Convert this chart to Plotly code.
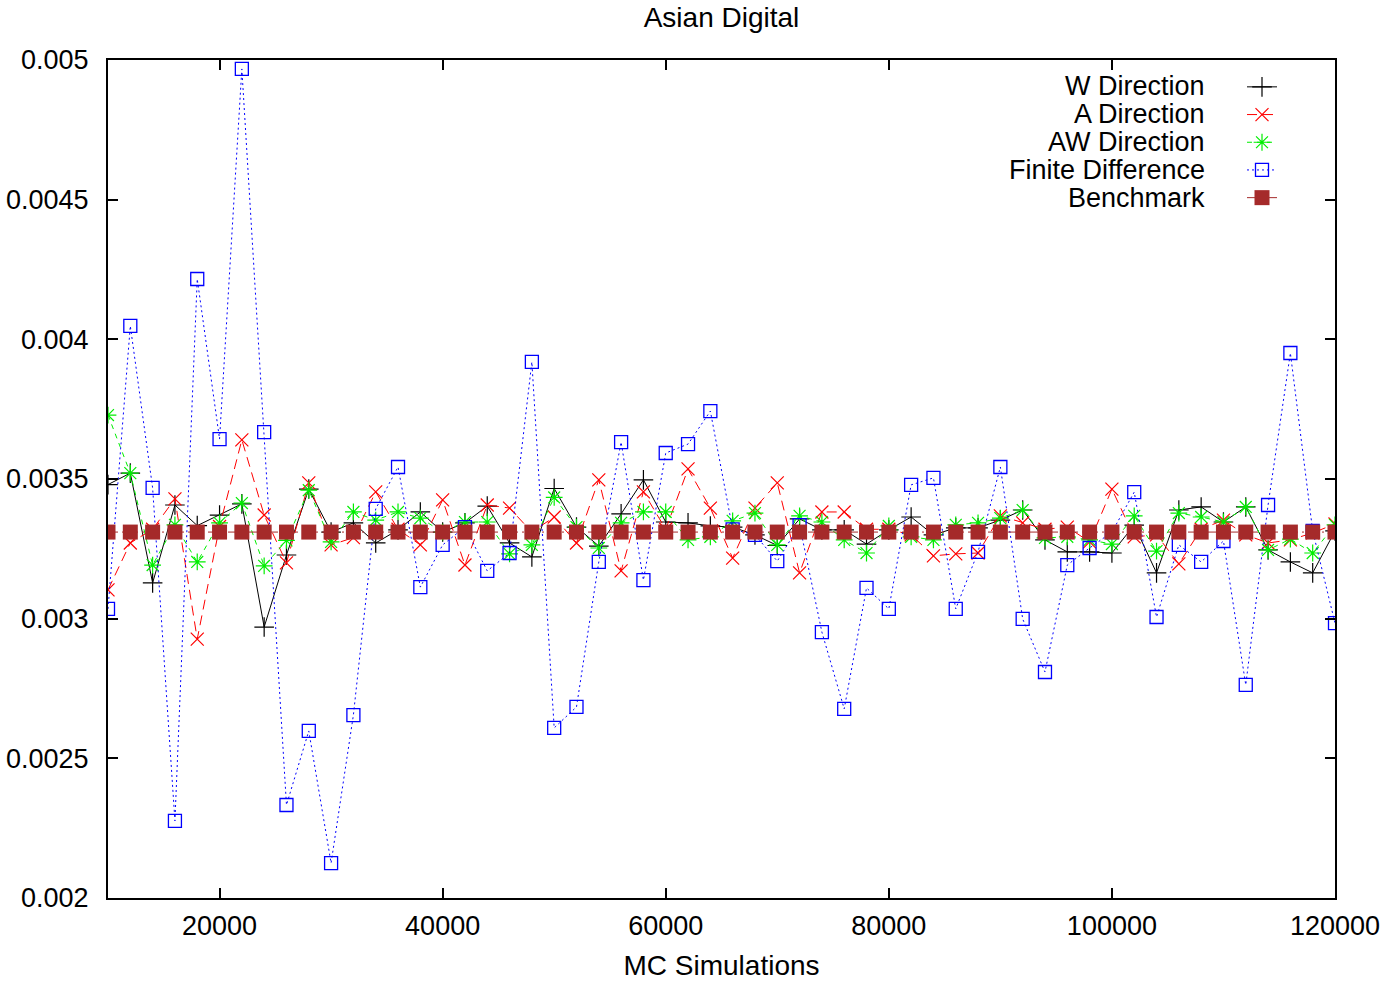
import plotly.graph_objects as go

sims = list(range(10000, 120001, 2000))

w_dir = [0.00348, 0.003521, 0.003128, 0.003407, 0.003333, 0.003371, 0.003411, 0.00297, 0.003228, 0.003464,
         0.00331, 0.003343, 0.003271, 0.003318, 0.003382, 0.00331, 0.003343, 0.003403, 0.003271, 0.003221,
         0.003466, 0.003328, 0.00326, 0.003375, 0.003497, 0.003346, 0.003343, 0.003332, 0.003328, 0.0033,
         0.003262, 0.003357, 0.003318, 0.003318, 0.003267, 0.003318, 0.003364, 0.0033, 0.003325, 0.003325,
         0.003353, 0.003389, 0.003282, 0.003239, 0.003239, 0.003235, 0.003335, 0.003164, 0.003389, 0.0034,
         0.003346, 0.0034, 0.003246, 0.003203, 0.003164, 0.003314]

a_dir = [0.003103, 0.003271, 0.00332, 0.003429, 0.002927, 0.00333, 0.00364, 0.003371, 0.0032, 0.003486,
         0.003264, 0.00329, 0.003454, 0.00332, 0.003264, 0.003425, 0.003192, 0.003407, 0.003396, 0.00331,
         0.003364, 0.003271, 0.003497, 0.003171, 0.003454, 0.00332, 0.003536, 0.003396, 0.003217, 0.003396,
         0.003486, 0.003164, 0.003382, 0.003382, 0.00332, 0.00332, 0.0033, 0.003225, 0.003232, 0.003235,
         0.003368, 0.003343, 0.00332, 0.003328, 0.003275, 0.003464, 0.003293, 0.0033, 0.003196, 0.00332,
         0.003353, 0.0033, 0.003271, 0.003282, 0.003307, 0.003339]

aw_dir = [0.003729, 0.003521, 0.003192, 0.003336, 0.003203, 0.003343, 0.003414, 0.003189, 0.00328, 0.00346,
          0.003275, 0.003382, 0.003353, 0.003382, 0.00336, 0.00331, 0.003346, 0.003346, 0.003232, 0.003264,
          0.003434, 0.003328, 0.003253, 0.003343, 0.003382, 0.003382, 0.003282, 0.003293, 0.00335, 0.003378,
          0.003264, 0.003368, 0.003346, 0.003282, 0.003235, 0.003332, 0.003293, 0.003282, 0.003336, 0.003343,
          0.00336, 0.003389, 0.003289, 0.003293, 0.003282, 0.003267, 0.003368, 0.003242, 0.003378, 0.003364,
          0.003346, 0.0034, 0.003246, 0.003285, 0.003235, 0.003336]

finite_diff = [0.003035, 0.004048, 0.003468, 0.002276, 0.004216, 0.003643, 0.004968, 0.003668, 0.002333, 0.002598,
               0.002125, 0.002655, 0.003393, 0.003543, 0.003113, 0.003264, 0.003328, 0.003171, 0.003235, 0.003919,
               0.002609, 0.002684, 0.003203, 0.003632, 0.003138, 0.003593, 0.003625, 0.003743, 0.00332, 0.0033,
               0.003206, 0.003335, 0.002952, 0.002677, 0.00311, 0.003035, 0.003479, 0.003504, 0.003035, 0.003239,
               0.003543, 0.002999, 0.002809, 0.003192, 0.003253, 0.00331, 0.003453, 0.003006, 0.003264, 0.003203,
               0.003278, 0.002763, 0.003407, 0.003951, 0.003314, 0.002984]

benchmark = [0.00331] * len(sims)

series_names = ["W Direction", "A Direction", "AW Direction", "Finite Difference", "Benchmark"]

y_ticks = [0.002, 0.0025, 0.003, 0.0035, 0.004, 0.0045, 0.005]
y_ticktext = ["0.002", "0.0025", "0.003", "0.0035", "0.004", "0.0045", "0.005"]
x_ticks = [20000, 40000, 60000, 80000, 100000, 120000]
x_ticktext = ["20000", "40000", "60000", "80000", "100000", "120000"]

FONT = "Liberation Sans, Arial, sans-serif"

styles = [
    dict(line=dict(color="black", width=1),
         marker=dict(symbol="cross-thin", size=14, line=dict(color="black", width=1.2))),
    dict(line=dict(color="#ff0000", width=1, dash="10px,6px"),
         marker=dict(symbol="x-thin", size=13, line=dict(color="#ff0000", width=1.2))),
    dict(line=dict(color="#00ee00", width=1, dash="5px,5px"),
         marker=dict(symbol="asterisk", size=14, line=dict(color="#00ee00", width=1.2))),
    dict(line=dict(color="#0000ff", width=1, dash="2px,3px"),
         marker=dict(symbol="square-open", size=13, color="#0000ff", line=dict(width=1.3))),
    dict(line=dict(color="#a52a2a", width=1, dash="10px,4px,2px,4px"),
         marker=dict(symbol="square", size=15, color="#a52a2a")),
]

fig = go.Figure()
for nm, ys, st in zip(series_names, [w_dir, a_dir, aw_dir, finite_diff, benchmark], styles):
    fig.add_trace(go.Scatter(x=sims, y=ys, name=" ", mode="lines+markers",
                             hovertemplate=nm + ": %{y}<extra></extra>", **st))

# legend labels, right-aligned to the left of the legend keys (gnuplot style)
row_y = [86, 114, 142, 170, 198]
annotations = []
for nm, py in zip(series_names, row_y):
    annotations.append(dict(text=nm, xref="paper", yref="paper",
                            x=(1206 - 108) / 1227, y=(898 - py) / 838,
                            xanchor="right", yanchor="middle", showarrow=False, borderpad=0,
                            font=dict(family=FONT, size=27, color="black")))

fig.update_layout(
    width=1387, height=981,
    margin=dict(l=108, r=52, t=60, b=83, autoexpand=False),
    paper_bgcolor="white", plot_bgcolor="white",
    font=dict(family=FONT, size=27, color="black"),
    title=dict(text="Asian Digital", x=0.5, xref="paper", xanchor="center",
               y=1 - 17 / 981, yref="container", yanchor="middle",
               font=dict(family=FONT, size=28)),
    showlegend=True,
    legend=dict(x=(1242 - 108) / 1227, y=(898 - 68) / 838, xanchor="left", yanchor="top",
                bgcolor="rgba(0,0,0,0)", font=dict(family=FONT, size=19),
                tracegroupgap=0, itemwidth=30),
    annotations=annotations,
    xaxis=dict(range=[10000, 120000], tickvals=x_ticks, ticktext=x_ticktext, automargin=False,
               showgrid=False, zeroline=False, showline=True, linecolor="black", linewidth=2,
               mirror="allticks", ticks="inside", ticklen=10, tickwidth=1.5, tickcolor="black",
               ticklabelstandoff=3,
               title=dict(text="MC Simulations", font=dict(family=FONT, size=28), standoff=18)),
    yaxis=dict(range=[0.002, 0.005], tickvals=y_ticks, ticktext=y_ticktext, automargin=False,
               showgrid=False, zeroline=False, showline=True, linecolor="black", linewidth=2,
               mirror="allticks", ticks="inside", ticklen=10, tickwidth=1.5, tickcolor="black",
               ticklabelstandoff=12),
)

fig.write_html("out.html", config={"displayModeBar": False},
               post_script="document.body.style.margin='0';document.body.style.overflow='hidden';")
